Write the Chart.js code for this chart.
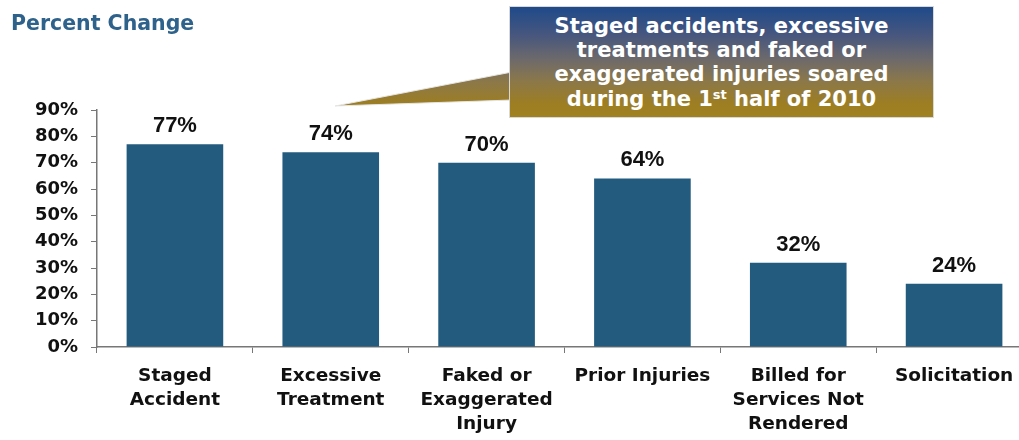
<!DOCTYPE html>
<html>
<head>
<meta charset="utf-8">
<script src="https://cdn.jsdelivr.net/npm/chart.js@4.4.1/dist/chart.umd.min.js"></script>
<style>
  html, body { margin: 0; padding: 0; background: #fff; overflow: hidden; width: 1019px; height: 440px; }
  #wrap { position: absolute; left: 0; top: 0; width: 1040px; height: 440px; }
  #title { position: absolute; left: 11px; top: 11px; font: bold 20.5px 'DejaVu Sans', sans-serif; color: #2f628b; white-space: nowrap; }
  #callout { position: absolute; left: 509px; top: 6px; width: 425px; height: 112px; box-sizing: border-box;
    border: 1px solid #d8d8d8;
    background: linear-gradient(to bottom, #1f4a8a 0%, #46567e 25%, #6e6a6a 48%, #8c7848 68%, #9d7e22 88%, #a08222 100%);
    color: #fff; font: bold 21px 'DejaVu Sans', sans-serif; text-align: center; line-height: 24.2px; padding-top: 7px; }
  #callout sup { font-size: 13px; line-height: 0; vertical-align: 7px; }
  #pointer { position: absolute; left: 0; top: 0; }
</style>
</head>
<body>
<div id="wrap">
  <canvas id="c" width="1040" height="440"></canvas>
</div>
<svg id="pointer" width="1019" height="440">
  <defs>
    <linearGradient id="pg" gradientUnits="userSpaceOnUse" x1="0" y1="6" x2="0" y2="118">
      <stop offset="0" stop-color="#1f4a8a"/>
      <stop offset="0.48" stop-color="#6e6a6a"/>
      <stop offset="0.68" stop-color="#8c7848"/>
      <stop offset="0.88" stop-color="#9d7e22"/>
      <stop offset="1" stop-color="#a08222"/>
    </linearGradient>
  </defs>
  <polygon points="512,72 335,106 512,100" fill="url(#pg)" stroke="#e6e6e6" stroke-width="1"/>
</svg>
<div id="title">Percent Change</div>
<div id="callout">Staged accidents, excessive<br>treatments and faked or<br>exaggerated injuries soared<br>during the 1<sup>st</sup> half of 2010</div>
<script>
const categories = [
  ["Staged", "Accident"],
  ["Excessive", "Treatment"],
  ["Faked or", "Exaggerated", "Injury"],
  ["Prior Injuries"],
  ["Billed for", "Services Not", "Rendered"],
  ["Solicitation"]
];
const values = [77, 74, 70, 64, 32, 24];
const yTicks = [0, 10, 20, 30, 40, 50, 60, 70, 80, 90];

const dataLabels = {
  id: 'dataLabels',
  afterDatasetsDraw(chart) {
    const ctx = chart.ctx;
    const meta = chart.getDatasetMeta(0);
    ctx.save();
    ctx.font = "bold 22px 'Liberation Sans', Arial, sans-serif";
    ctx.fillStyle = '#111';
    ctx.textAlign = 'center';
    ctx.textBaseline = 'alphabetic';
    meta.data.forEach((bar, i) => {
      ctx.fillText(values[i] + '%', bar.x, bar.y - 12);
    });
    ctx.restore();
  }
};

new Chart(document.getElementById('c'), {
  type: 'bar',
  data: {
    labels: categories,
    datasets: [{
      data: values,
      backgroundColor: '#235b7e',
      borderWidth: 0,
      barPercentage: 0.62,
      categoryPercentage: 1.0
    }]
  },
  options: {
    responsive: false,
    animation: false,
    devicePixelRatio: 1,
    layout: { padding: { top: 110, right: 8, left: 0, bottom: 0 } },
    plugins: { legend: { display: false }, tooltip: { enabled: false }, title: { display: false } },
    scales: {
      x: {
        grid: { display: true, drawOnChartArea: false, drawTicks: true, tickLength: 6, color: '#777', offset: true },
        border: { display: true, color: '#777', width: 1.5 },
        ticks: {
          color: '#111',
          font: { family: "'DejaVu Sans', sans-serif", weight: 'bold', size: 18.5, lineHeight: '24px' },
          padding: 11,
          maxRotation: 0,
          autoSkip: false
        },
        afterFit(scale) { scale.height = 93; }
      },
      y: {
        min: 0,
        max: 90,
        afterBuildTicks(scale) { scale.ticks = yTicks.map(v => ({ value: v })); },
        grid: { display: true, drawOnChartArea: false, drawTicks: true, tickLength: 6, color: '#777' },
        border: { display: true, color: '#777', width: 1.5 },
        ticks: {
          color: '#111',
          font: { family: "'DejaVu Sans', sans-serif", weight: 'bold', size: 18 },
          padding: 13,
          callback: v => v + '%'
        },
        afterFit(scale) { scale.width = 97; }
      }
    }
  },
  plugins: [dataLabels]
});
</script>
</body>
</html>
